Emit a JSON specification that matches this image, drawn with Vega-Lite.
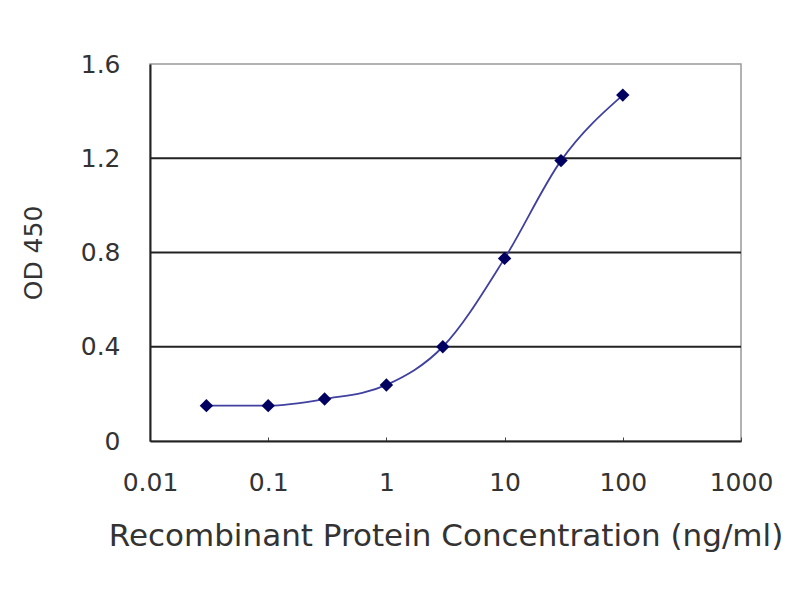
{
  "$schema": "https://vega.github.io/schema/vega-lite/v6.json",
  "autosize": "none",
  "width": 591,
  "height": 377,
  "padding": {"left": 150, "top": 64, "right": 59, "bottom": 159},
  "background": "white",
  "config": {
    "view": {"stroke": "#999999", "strokeWidth": 1.5},
    "font": "DejaVu Sans"
  },
  "data": {
    "values": [
      {"conc": 0.03, "od": 0.15},
      {"conc": 0.1, "od": 0.15},
      {"conc": 0.3, "od": 0.178},
      {"conc": 1, "od": 0.238},
      {"conc": 3, "od": 0.40},
      {"conc": 10, "od": 0.775},
      {"conc": 30, "od": 1.19},
      {"conc": 100, "od": 1.468}
    ]
  },
  "encoding": {
    "x": {
      "field": "conc",
      "type": "quantitative",
      "scale": {"type": "log", "domain": [0.01, 1000], "nice": false},
      "axis": {
        "title": "Recombinant Protein Concentration (ng/ml)",
        "values": [0.01, 0.1, 1, 10, 100, 1000],
        "format": "~g",
        "grid": false,
        "domainColor": "#222222",
        "domainWidth": 2,
        "ticks": true,
        "tickColor": "#444444",
        "tickSize": -4,
        "labelFlush": false,
        "labelOverlap": false,
        "labelPadding": 33,
        "labelFontSize": 25,
        "labelColor": "#333333",
        "titleFontSize": 31,
        "titleFontWeight": "normal",
        "titleColor": "#333333",
        "titlePadding": 26
      }
    },
    "y": {
      "field": "od",
      "type": "quantitative",
      "scale": {"domain": [0, 1.6], "nice": false},
      "axis": {
        "title": "OD 450",
        "values": [0, 0.4, 0.8, 1.2, 1.6],
        "format": "~g",
        "grid": false,
        "ticks": false,
        "labelFlush": false,
        "labelOverlap": false,
        "domainColor": "#222222",
        "domainWidth": 2,
        "labelPadding": 30,
        "labelFontSize": 25,
        "labelColor": "#333333",
        "titleFontSize": 25,
        "titleFontWeight": "normal",
        "titleColor": "#333333",
        "titlePadding": 34
      }
    }
  },
  "layer": [
    {
      "data": {"values": [{"g": 0.4}, {"g": 0.8}, {"g": 1.2}]},
      "mark": {"type": "rule", "color": "#222222", "strokeWidth": 2},
      "encoding": {
        "y": {"field": "g", "type": "quantitative"},
        "x": null
      }
    },
    {
      "mark": {"type": "line", "interpolate": "monotone", "color": "#4040a0", "strokeWidth": 1.8}
    },
    {
      "mark": {"type": "point", "shape": "diamond", "filled": true, "color": "#000060", "size": 180, "opacity": 1}
    }
  ]
}
